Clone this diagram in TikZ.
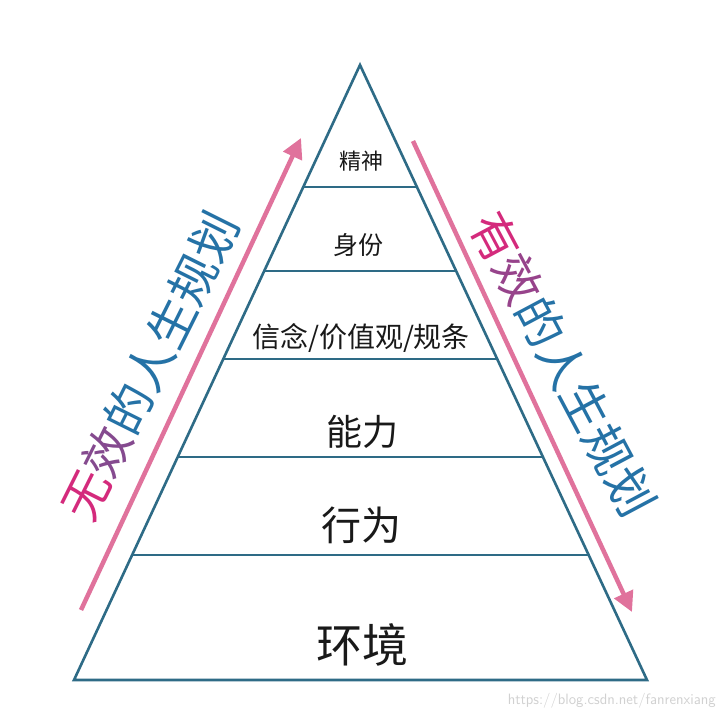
\documentclass[tikz,border=0pt]{standalone}
\usepackage{fontspec}
\newfontfamily\cjk{Noto Sans CJK SC}
\usetikzlibrary{calc,arrows.meta}
\definecolor{pyr}{HTML}{2E6B86}
\definecolor{arr}{HTML}{E0729C}
\definecolor{mag}{HTML}{D42A7C}
\definecolor{blu}{HTML}{2572A6}
\tikzset{
  pyrline/.style={draw=pyr,line width=2.6pt,line join=miter},
  rowline/.style={draw=pyr,line width=2pt},
  lbl/.style={font=\cjk,text=black!90,inner sep=0pt,anchor=center},
  sidearrow/.style={draw=arr,line width=4.5pt,-{Triangle[length=20pt,width=20pt]}},
  side/.style={font=\cjk\fontsize{48}{48}\selectfont,inner sep=0pt}
}
\begin{document}
\begin{tikzpicture}[x=1pt,y=-1pt]
\fill[white] (0,0) rectangle (720,720);
\useasboundingbox (0,0) rectangle (720,720);
\coordinate (A) at (360,65);
\coordinate (BL) at (74,680);
\coordinate (BR) at (647,680);
\draw[pyrline] (BL) -- (A) -- (BR) -- cycle;
\foreach \t/\n in {0.1984/1,0.335/2,0.478/3,0.637/4,0.797/5}{
  \coordinate (L\n) at ($(A)!\t!(BL)$);
  \coordinate (R\n) at ($(A)!\t!(BR)$);
  \draw[rowline] (L\n) -- (R\n);
}
\node[lbl,font=\cjk\fontsize{22}{22}\selectfont] (jingshen) at (361,161) {精神};
\node[lbl,font=\cjk\fontsize{25}{25}\selectfont] (shenfen) at (358,245) {身份};
\node[lbl,font=\cjk\fontsize{28}{28}\selectfont] (xinnian) at (361,338) {信念/价值观/规条};
\node[lbl,font=\cjk\fontsize{36}{36}\selectfont] (nengli) at (362,432) {能力};
\node[lbl,font=\cjk\fontsize{40}{40}\selectfont] (xingwei) at (361,525) {行为};
\node[lbl,font=\cjk\fontsize{46}{46}\selectfont] (huanjing) at (362,645) {环境};
\coordinate (la0) at (81,610);
\coordinate (la1) at (301,138);
\draw[sidearrow] (la0) -- (la1);
\coordinate (ra0) at (413,141);
\coordinate (ra1) at (632,612);
\draw[sidearrow] (ra0) -- (ra1);
\node[side,rotate=63.5] (lefttext) at (150,366)
  {\textcolor{mag}{无}\textcolor{mag!55!blu}{效}\textcolor{blu}{的人生规划}};
\node[side,rotate=-62] (righttext) at (563,364)
  {\textcolor{mag}{有}\textcolor{mag!65!blu}{效}\textcolor{blu}{的人生规划}};
\node[font=\sffamily\fontsize{15}{15}\selectfont,text=black!18,anchor=east,inner sep=0pt] (wm) at (716,701) {https://blog.csdn.net/fanrenxiang};
\end{tikzpicture}
\end{document}
